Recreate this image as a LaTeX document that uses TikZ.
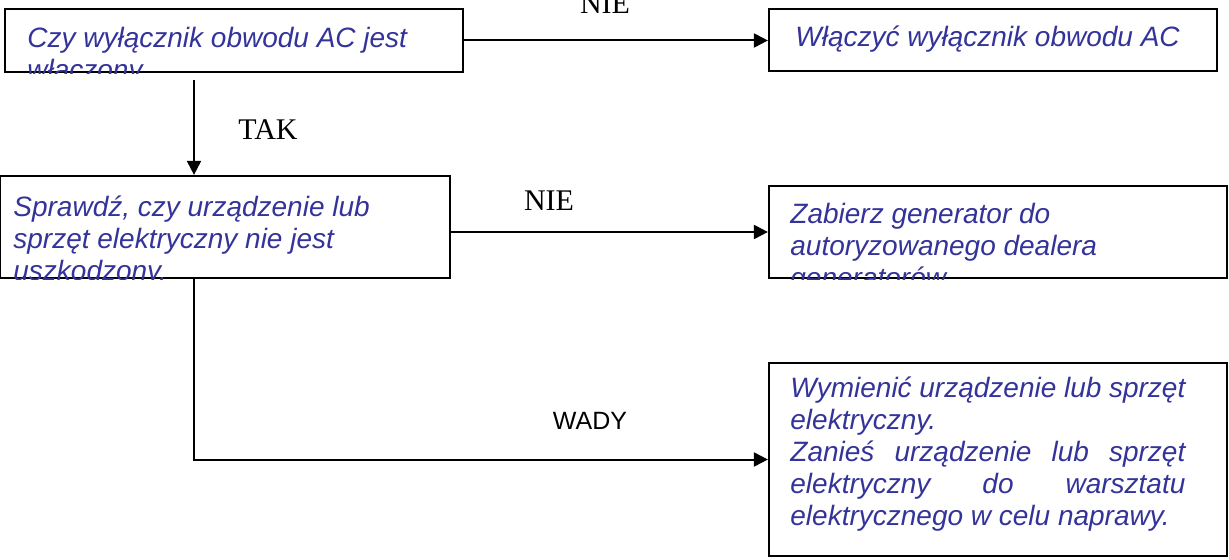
\documentclass[tikz,border=0pt]{standalone}
\usepackage{fontspec}
\setmainfont{Liberation Serif}
\newfontfamily\arialfont{Liberation Sans}
\usetikzlibrary{arrows.meta,positioning,fit}
\definecolor{boxblue}{RGB}{51,51,153}
\tikzset{
  stepbox/.style={draw, line width=1.1pt, inner sep=0pt},
  boxtxt/.style={font=\arialfont\itshape\fontsize{14}{16}\selectfont, text=boxblue,
                 inner sep=0pt, anchor=north west},
  arr/.style={-{Triangle[length=7pt,width=7pt]}, line width=1pt},
  ylabel/.style={font=\fontsize{15}{17}\selectfont},
}

\begin{document}
\begin{tikzpicture}[x=0.5pt,y=-0.5pt]
  \useasboundingbox (0,0) rectangle (1229,560);
  % boxes
  \node[stepbox, fit={(5,9) (463,72)}] (chk) {};
  \node[stepbox, fit={(769,9) (1217,71)}] (acon) {};
  \node[stepbox, fit={(0,176) (450,278)}] (sprawdz) {};
  \node[stepbox, fit={(769,186) (1227,278)}] (dealer) {};
  \node[stepbox, fit={(769,363) (1227,556)}] (wymien) {};

  % texts, clipped to their boxes (top of strut = baseline - 22.4)
  \begin{scope}
    \clip (chk.south west) rectangle (chk.north east);
    \node[boxtxt, align=left] (chktxt) at (27,24.6) {\strut Czy wyłącznik obwodu AC jest\\włączony};
  \end{scope}
  \node[boxtxt] (acontxt) at (795,23.6) {\strut Włączyć wyłącznik obwodu AC};
  \begin{scope}
    \clip (sprawdz.south west) rectangle (sprawdz.north east);
    \node[boxtxt, align=left] (sprawdztxt) at (13,193.6)
      {\strut Sprawdź, czy urządzenie lub\\sprzęt elektryczny nie jest\\uszkodzony.};
  \end{scope}
  \begin{scope}
    \clip (dealer.south west) rectangle (dealer.north east);
    \node[boxtxt, align=left] (dealertxt) at (790,200.6)
      {\strut Zabierz generator do\\autoryzowanego dealera\\generatorów.};
  \end{scope}
  \node[boxtxt, text width=197.5pt, align=justify] (wymientxt) at (790,374.6)
    {\strut Wymienić urządzenie lub sprzęt\linebreak elektryczny.\par
     Zanieś urządzenie lub sprzęt\linebreak elektryczny do warsztatu\linebreak elektrycznego w celu naprawy.};

  % connectors
  \coordinate (j1) at (194,80);
  \draw[arr] (chk.east) -- (chk.east -| acon.west);
  \draw[arr] (j1) -- (j1 |- sprawdz.north);
  \draw[arr] (sprawdz.east |- dealer.west) -- (dealer.west);
  \draw[arr] (sprawdz.south -| j1) |- (wymien.west);

  % labels
  \node[ylabel] (nie1) at (605,4) {NIE};
  \node[ylabel] (tak) at (268,130) {TAK};
  \node[ylabel] (nie2) at (549,201) {NIE};
  \node[font=\arialfont\fontsize{12.5}{15}\selectfont] (wady) at (590,421) {WADY};
\end{tikzpicture}
\end{document}
